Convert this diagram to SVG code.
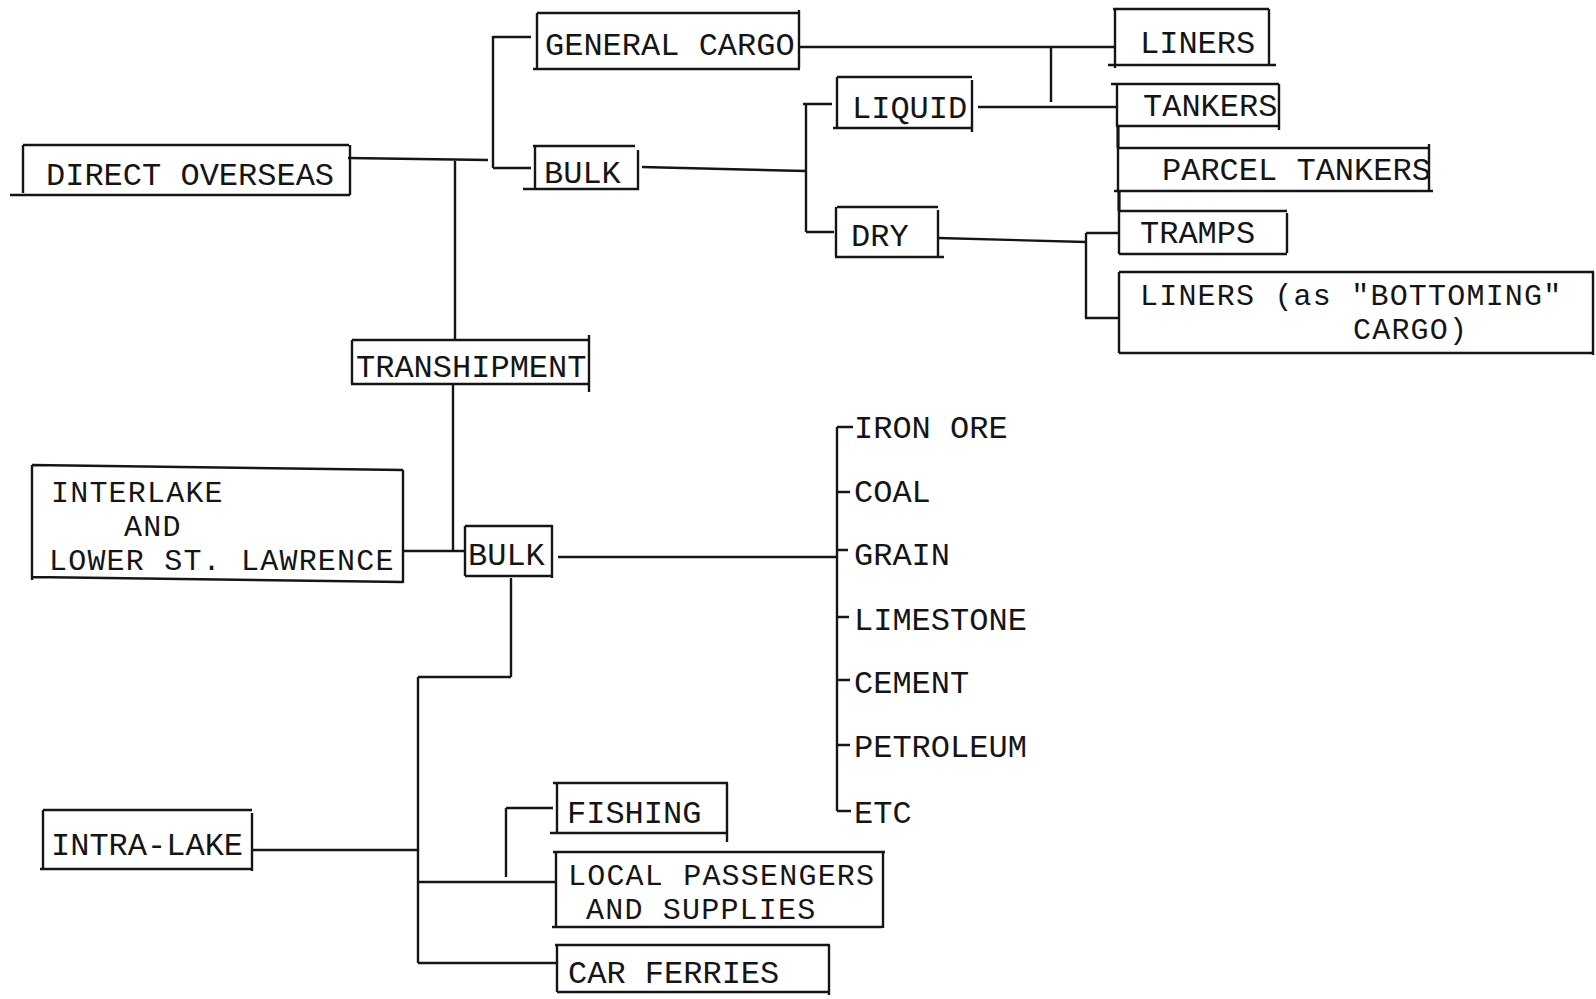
<svg xmlns="http://www.w3.org/2000/svg" width="1596" height="999" viewBox="0 0 1596 999">
<style>
.ln{stroke:#151515;stroke-width:2.4;fill:none;stroke-linecap:butt}
.t{font-family:"Liberation Mono","DejaVu Sans Mono",monospace;font-size:32px;fill:#151515}
.m{font-size:30px;letter-spacing:1.2px}
</style>
<rect width="1596" height="999" fill="#ffffff"/>
<g id="connectors" class="ln">
<path d="M348,158 L488,160 M455,160 V340 M493,36 V168 M493,37 H531 M493,168 H531"/>
<path d="M642,167 L806,171 M806,104 V232 M803,104 H832 M806,232 H834"/>
<path d="M799,47 H1115 M1051,47 V102 M978,107 H1117"/>
<path d="M938,238 L1086,242 M1086,233 V318 M1086,233 H1119 M1085,318 H1119"/>
<path d="M1118,126 V148 M1119,191 V211" stroke-width="3.2"/>
<path d="M453,385 V551 M403,551 H465"/>
<path d="M558,557 H837 M837,427 V811 M837,427 H853 M837,492 H850 M837,550 H848 M837,617 H849 M837,680 H850 M837,745 H850 M837,811 H851"/>
<path d="M511,578 V677 M511,677 H418 M418,677 V963 M418,963 H556 M252,850 H418 M418,882 H556 M506,808 V877 M506,808 H553"/>
</g>
<g id="direct-overseas">
<path class="ln" d="M23,145 H349 M23,145 V193 M350,145 V195 M10,195 H350"/>
<text class="t" x="46" y="185">DIRECT OVERSEAS</text>
</g>
<g id="general-cargo">
<path class="ln" d="M537,13 H799 M537,13 V70 M799,10 V68 M533,69 H800"/>
<text class="t" x="545" y="55">GENERAL CARGO</text>
</g>
<g id="bulk-overseas">
<path class="ln" d="M533,146 H635 M535,146 V190 M638,150 V190 M523,189 H639"/>
<text class="t" x="544" y="183">BULK</text>
</g>
<g id="liquid">
<path class="ln" d="M837,77 H972 M837,77 V128 M972,80 V132 M833,128 H972"/>
<text class="t" x="852" y="118">LIQUID</text>
</g>
<g id="dry">
<path class="ln" d="M837,207 H938 M836,207 V257 M938,210 V257 M835,257 H944"/>
<text class="t" x="851" y="246">DRY</text>
</g>
<g id="liners">
<path class="ln" d="M1113,9 H1269 M1115,9 V68 M1269,9 V65 M1108,65 H1276"/>
<text class="t" x="1140" y="53">LINERS</text>
</g>
<g id="tankers">
<path class="ln" d="M1111,84 H1279 M1117,84 V126 M1279,84 V130 M1116,126 H1279"/>
<text class="t" x="1143" y="116">TANKERS</text>
</g>
<g id="parcel-tankers">
<path class="ln" d="M1117,148 H1429 M1118,148 V191 M1429,144 V190 M1114,191 H1433"/>
<text class="t" x="1162" y="180">PARCEL TANKERS</text>
</g>
<g id="tramps">
<path class="ln" d="M1119,211 H1287 M1119,211 V254 M1287,213 V253 M1119,254 H1287"/>
<text class="t" x="1140" y="243">TRAMPS</text>
</g>
<g id="liners-bottoming">
<path class="ln" d="M1119,272 H1594 M1119,272 V353 M1593,272 V355 M1119,353 H1594"/>
<text class="t m" x="1140" y="305">LINERS (as "BOTTOMING"</text>
<text class="t m" x="1353" y="339">CARGO)</text>
</g>
<g id="transhipment">
<path class="ln" d="M352,340 H589 M352,340 V384 M589,335 V392 M351,384 H589"/>
<text class="t" x="356" y="377">TRANSHIPMENT</text>
</g>
<g id="interlake">
<path class="ln" d="M32,465 L403,470 M32,465 V580 M403,470 V583 M32,577 L403,582"/>
<text class="t m" x="51" y="502">INTERLAKE</text>
<text class="t m" x="124" y="536">AND</text>
<text class="t m" x="49" y="570">LOWER ST. LAWRENCE</text>
</g>
<g id="bulk-lakes">
<path class="ln" d="M465,526 H552 M465,526 V576 M552,525 V578 M465,576 H552"/>
<text class="t" x="468" y="565">BULK</text>
</g>
<g id="intra-lake">
<path class="ln" d="M43,810 H252 M43,810 V868 M252,813 V871 M40,869 H252"/>
<text class="t" x="51" y="855">INTRA-LAKE</text>
</g>
<g id="fishing">
<path class="ln" d="M553,783 H728 M557,783 V833 M727,783 V842 M550,833 H727"/>
<text class="t" x="567" y="823">FISHING</text>
</g>
<g id="local-passengers">
<path class="ln" d="M553,852 H885 M556,852 V927 M883,852 V928 M552,927 H882"/>
<text class="t m" x="568" y="885">LOCAL PASSENGERS</text>
<text class="t m" x="586" y="919">AND SUPPLIES</text>
</g>
<g id="car-ferries">
<path class="ln" d="M555,945 H830 M557,945 V992 M829,945 V995 M557,992 H829"/>
<text class="t" x="568" y="983">CAR FERRIES</text>
</g>
<g id="iron-ore"><text class="t" x="854" y="438">IRON ORE</text></g>
<g id="coal"><text class="t" x="854" y="502">COAL</text></g>
<g id="grain"><text class="t" x="854" y="565">GRAIN</text></g>
<g id="limestone"><text class="t" x="854" y="630">LIMESTONE</text></g>
<g id="cement"><text class="t" x="854" y="693">CEMENT</text></g>
<g id="petroleum"><text class="t" x="854" y="757">PETROLEUM</text></g>
<g id="etc"><text class="t" x="854" y="823">ETC</text></g>
</svg>
